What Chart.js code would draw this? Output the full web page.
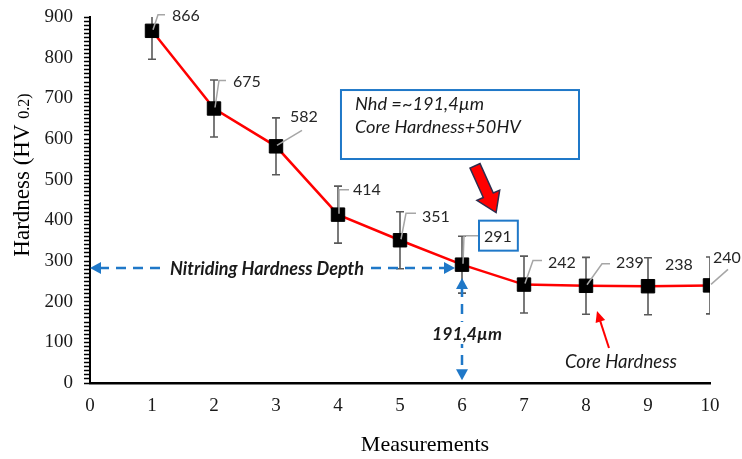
<!DOCTYPE html>
<html>
<head>
<meta charset="utf-8">
<script src="https://cdn.jsdelivr.net/npm/chart.js@4/dist/chart.umd.min.js"></script>
<style>
  html, body { margin: 0; padding: 0; background: #ffffff; }
  #wrap { width: 742px; height: 459px; }
</style>
</head>
<body>
<div id="wrap"><canvas id="c" width="742" height="459"></canvas></div>
<script>
// ---------- data ----------
const measurements = [1, 2, 3, 4, 5, 6, 7, 8, 9, 10];
const hardness     = [866, 675, 582, 414, 351, 291, 242, 239, 238, 240];
const errorHV      = [70, 70, 70, 70, 70, 70, 70, 70, 70, 70];
const xTickValues  = [0, 1, 2, 3, 4, 5, 6, 7, 8, 9, 10];
const yTickValues  = [0, 100, 200, 300, 400, 500, 600, 700, 800, 900];

// ---------- texts ----------
const yTitleMain = 'Hardness (HV ';
const yTitleSub  = '0.2)';
const xTitle     = 'Measurements';
const boxLines   = ['Nhd =~191,4µm', 'Core Hardness+50HV'];
const nhdText    = 'Nitriding Hardness Depth';
const depthText  = '191,4µm';
const coreText   = 'Core Hardness';

// label placement style (pixel offsets from each point) and leader paths
const labelStyle = [
  { dx: 20, dy: -15, leader: [[0, 0], [6, -16], [13, -16]] },
  { dx: 19, dy: -27, leader: [[0, 0], [5, -28], [12, -28]] },
  { dx: 14, dy: -29, leader: [[0, 0], [26, -16]] },
  { dx: 15, dy: -25, leader: [[0, 0], [1, -25], [11, -25]] },
  { dx: 22, dy: -23, leader: [[0, 0], [6, -27], [16, -27]] },
  { dx: 22, dy: -28, leader: [[0, 0], [2, -29], [17, -29]], boxed: true },
  { dx: 24, dy: -22, leader: [[0, 0], [9, -24], [18, -24]] },
  { dx: 30, dy: -23, leader: [[0, 0], [16, -22], [24, -22]] },
  { dx: 17, dy: -21, leader: null },
  { dx: 3,  dy: -28, leader: [[0, 0], [18, -16]] }
];

const SERIF = '"Liberation Serif", "Times New Roman", serif';
const SANS = 'Lato, "Open Sans", sans-serif';
const BLUE = '#1f78c8';

// pick a font size so the text spans the wanted width
function fitFont(ctx, text, width, style) {
  ctx.font = style + ' 20px ' + SANS;
  const w = ctx.measureText(text).width;
  const size = (20 * width / w).toFixed(2);
  return style + ' ' + size + 'px ' + SANS;
}

function arrowHead(ctx, x1, y1, x2, y2, len, half, color) {
  const ang = Math.atan2(y2 - y1, x2 - x1);
  ctx.save();
  ctx.translate(x2, y2);
  ctx.rotate(ang);
  ctx.beginPath();
  ctx.moveTo(0, 0);
  ctx.lineTo(-len, -half);
  ctx.lineTo(-len, half);
  ctx.closePath();
  ctx.fillStyle = color;
  ctx.fill();
  ctx.restore();
}

const errorBars = {
  id: 'errorBars',
  beforeDatasetsDraw(chart) {
    const { ctx, chartArea, scales: { x, y } } = chart;
    ctx.save();
    ctx.beginPath();
    ctx.rect(chartArea.left, chartArea.top, chartArea.right - chartArea.left, chartArea.bottom - chartArea.top);
    ctx.clip();
    ctx.strokeStyle = '#595959';
    ctx.lineWidth = 1.6;
    measurements.forEach((m, i) => {
      const px = x.getPixelForValue(m);
      const top = y.getPixelForValue(hardness[i] + errorHV[i]);
      const bot = y.getPixelForValue(hardness[i] - errorHV[i]);
      ctx.beginPath();
      ctx.moveTo(px, top); ctx.lineTo(px, bot);
      ctx.moveTo(px - 4, top); ctx.lineTo(px + 4, top);
      ctx.moveTo(px - 4, bot); ctx.lineTo(px + 4, bot);
      ctx.stroke();
    });
    ctx.restore();
  }
};

const labelsPlugin = {
  id: 'labelsPlugin',
  afterDatasetsDraw(chart) {
    const { ctx } = chart;
    const meta = chart.getDatasetMeta(0);
    ctx.save();
    meta.data.forEach((pt, i) => {
      const st = labelStyle[i];
      const px = pt.x, py = pt.y;
      if (st.leader) {
        ctx.strokeStyle = '#a6a6a6';
        ctx.lineWidth = 1.5;
        ctx.beginPath();
        st.leader.forEach(([lx, ly], k) => {
          if (k === 0) ctx.moveTo(px + lx + 1, py + ly - 1);
          else ctx.lineTo(px + lx, py + ly);
        });
        ctx.stroke();
      }
      ctx.font = '16px ' + SANS;
      ctx.fillStyle = '#262626';
      ctx.textAlign = 'left';
      ctx.textBaseline = 'middle';
      const txt = String(hardness[i]);
      const lx = px + st.dx, ly = py + st.dy;
      ctx.fillText(txt, lx, ly);
      if (st.boxed) {
        const w = ctx.measureText(txt).width;
        ctx.strokeStyle = BLUE;
        ctx.lineWidth = 2;
        ctx.strokeRect(lx - 5, ly - 16, w + 11, 30);
      }
    });
    ctx.restore();
  }
};

const annotations = {
  id: 'annotations',
  afterDraw(chart) {
    const { ctx, scales: { x, y } } = chart;
    const X = v => x.getPixelForValue(v);
    const Y = v => y.getPixelForValue(v);
    ctx.save();

    // horizontal dashed double arrow (Nitriding Hardness Depth)
    const hy = Y(283);
    const hx1 = X(0), hx2 = X(6) - 7;
    ctx.strokeStyle = BLUE;
    ctx.lineWidth = 2.5;
    ctx.setLineDash([10, 7]);
    ctx.beginPath();
    ctx.moveTo(hx1 + 9, hy); ctx.lineTo(hx2 - 9, hy);
    ctx.stroke();
    ctx.setLineDash([]);
    arrowHead(ctx, hx2, hy, hx1, hy, 11, 6, BLUE);
    arrowHead(ctx, hx1, hy, hx2, hy, 11, 6, BLUE);
    ctx.font = fitFont(ctx, nhdText, 194, 'bold italic');
    ctx.textAlign = 'center';
    ctx.textBaseline = 'middle';
    let tw = ctx.measureText(nhdText).width;
    const tcx = X(2.855);
    ctx.fillStyle = '#ffffff';
    ctx.fillRect(tcx - tw / 2 - 4, hy - 10, tw + 8, 20);
    ctx.fillStyle = '#1a1a1a';
    ctx.fillText(nhdText, tcx, hy + 1);

    // vertical dashed double arrow (191,4µm)
    const vx = X(6);
    const vy1 = Y(258), vy2 = Y(7);
    ctx.strokeStyle = BLUE;
    ctx.setLineDash([10, 7]);
    ctx.beginPath();
    ctx.moveTo(vx, vy1 + 9); ctx.lineTo(vx, vy2 - 9);
    ctx.stroke();
    ctx.setLineDash([]);
    arrowHead(ctx, vx, vy2, vx, vy1, 11, 6, BLUE);
    arrowHead(ctx, vx, vy1, vx, vy2, 11, 6, BLUE);
    ctx.font = fitFont(ctx, depthText, 70, 'bold italic');
    tw = ctx.measureText(depthText).width;
    const dcx = X(6.08), dcy = Y(123);
    ctx.fillStyle = '#ffffff';
    ctx.fillRect(dcx - tw / 2 - 3, dcy - 11, tw + 6, 22);
    ctx.fillStyle = '#1a1a1a';
    ctx.fillText(depthText, dcx, dcy + 1);

    // text box
    const bx1 = X(4.048), bx2 = X(7.887), by1 = Y(720.4), by2 = Y(550.8);
    ctx.fillStyle = '#ffffff';
    ctx.fillRect(bx1, by1, bx2 - bx1, by2 - by1);
    ctx.strokeStyle = BLUE;
    ctx.lineWidth = 2;
    ctx.strokeRect(bx1, by1, bx2 - bx1, by2 - by1);
    ctx.fillStyle = '#1a1a1a';
    ctx.font = fitFont(ctx, boxLines[1], 166, 'italic');
    ctx.textAlign = 'left';
    ctx.fillText(boxLines[0], X(4.274), Y(686));
    ctx.fillText(boxLines[1], X(4.274), Y(629.5));

    // red block arrow
    const tx = X(6.21), ty = Y(534), pxp = X(6.55), pyp = Y(419);
    const ang = Math.atan2(pyp - ty, pxp - tx);
    const L = Math.hypot(pxp - tx, pyp - ty);
    ctx.save();
    ctx.translate(tx, ty);
    ctx.rotate(ang);
    const hw = 5.5, hh = 12.5, hl = 19;
    ctx.beginPath();
    ctx.moveTo(0, -hw);
    ctx.lineTo(L - hl, -hw);
    ctx.lineTo(L - hl, -hh);
    ctx.lineTo(L, 0);
    ctx.lineTo(L - hl, hh);
    ctx.lineTo(L - hl, hw);
    ctx.lineTo(0, hw);
    ctx.closePath();
    ctx.fillStyle = '#ff0000';
    ctx.fill();
    ctx.strokeStyle = '#2d2d4d';
    ctx.lineWidth = 1.5;
    ctx.stroke();
    ctx.restore();

    // core hardness arrow
    const cx1 = X(8.371), cy1 = Y(86), cx2 = X(8.177), cy2 = Y(177);
    ctx.strokeStyle = '#ff0000';
    ctx.lineWidth = 2;
    ctx.beginPath();
    ctx.moveTo(cx1, cy1);
    const a2 = Math.atan2(cy2 - cy1, cx2 - cx1);
    ctx.lineTo(cx2 - Math.cos(a2) * 9, cy2 - Math.sin(a2) * 9);
    ctx.stroke();
    arrowHead(ctx, cx1, cy1, cx2, cy2, 11, 5, '#ff0000');
    ctx.font = fitFont(ctx, coreText, 112, 'italic');
    ctx.textAlign = 'center';
    ctx.fillStyle = '#1a1a1a';
    ctx.fillText(coreText, X(8.565), Y(51.6));

    // axis titles
    ctx.fillStyle = '#000000';
    ctx.font = '22px ' + SERIF;
    ctx.textAlign = 'center';
    ctx.textBaseline = 'alphabetic';
    ctx.fillText(xTitle, 425, 451);

    ctx.save();
    ctx.translate(29, 175);
    ctx.rotate(-Math.PI / 2);
    ctx.textAlign = 'left';
    ctx.font = '23px ' + SERIF;
    const w1 = ctx.measureText(yTitleMain).width;
    ctx.font = '16px ' + SERIF;
    const w2 = ctx.measureText(yTitleSub).width;
    const start = -(w1 + w2) / 2;
    ctx.font = '23px ' + SERIF;
    ctx.fillText(yTitleMain, start, 0);
    ctx.font = '16px ' + SERIF;
    ctx.fillText(yTitleSub, start + w1, 0);
    ctx.restore();

    ctx.restore();
  }
};

new Chart(document.getElementById('c'), {
  type: 'line',
  data: {
    datasets: [{
      data: measurements.map((m, i) => ({ x: m, y: hardness[i] })),
      borderColor: '#ff0000',
      borderWidth: 2.5,
      tension: 0,
      pointStyle: 'rect',
      pointRadius: 9.5,
      pointBackgroundColor: '#000000',
      pointBorderColor: '#000000',
      pointBorderWidth: 1,
      fill: false
    }]
  },
  options: {
    responsive: false,
    animation: false,
    events: [],
    layout: { padding: { left: 0, right: 32, top: 17, bottom: 0 } },
    plugins: { legend: { display: false }, tooltip: { enabled: false } },
    scales: {
      x: {
        type: 'linear',
        min: 0, max: 10,
        afterBuildTicks(s) { s.ticks = xTickValues.map(v => ({ value: v })); },
        afterFit(s) { s.height = 76; s.paddingLeft = 0; s.paddingRight = 0; },
        ticks: { color: '#1a1a1a', font: { family: SERIF, size: 19 }, padding: 12, maxRotation: 0, autoSkip: false },
        grid: { display: false, drawTicks: false },
        border: { color: '#000000', width: 2.5 }
      },
      y: {
        min: 0, max: 900,
        afterBuildTicks(s) {
          const t = [];
          for (let v = 0; v <= 900; v += 10) t.push({ value: v });
          s.ticks = t;
        },
        afterFit(s) { s.width = 90; s.paddingTop = 0; s.paddingBottom = 0; },
        ticks: {
          color: '#1a1a1a',
          font: { family: SERIF, size: 19 },
          padding: 11,
          autoSkip: false,
          callback: v => (yTickValues.includes(Math.round(v)) ? String(Math.round(v)) : '')
        },
        grid: {
          drawOnChartArea: false,
          drawTicks: true,
          tickLength: 6,
          tickColor: '#000000',
          tickWidth: 1.5
        },
        border: { color: '#000000', width: 2 }
      }
    }
  },
  plugins: [errorBars, labelsPlugin, annotations]
});
</script>
</body>
</html>
